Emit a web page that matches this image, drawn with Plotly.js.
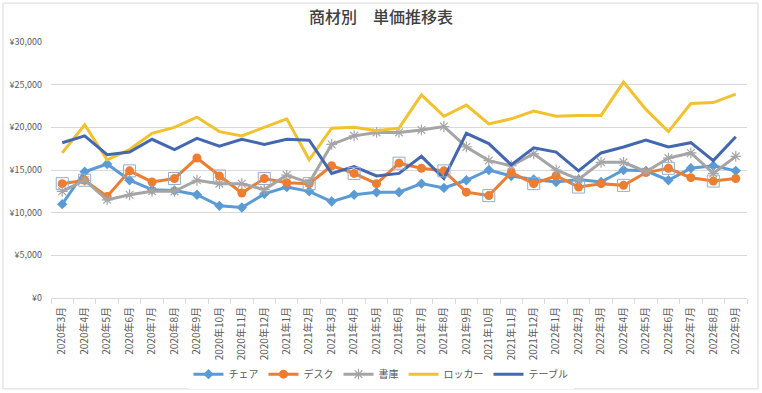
<!DOCTYPE html>
<html>
<head>
<meta charset="utf-8">
<script src="https://cdn.plot.ly/plotly-3.0.1.min.js"></script>
<style>html,body{margin:0;padding:0;background:#fff;}#chart{width:762px;height:393px;}</style>
</head>
<body>
<div id="chart"></div>
<script>
const months = ["2020年3月","2020年4月","2020年5月","2020年6月","2020年7月","2020年8月","2020年9月","2020年10月","2020年11月","2020年12月",
"2021年1月","2021年2月","2021年3月","2021年4月","2021年5月","2021年6月","2021年7月","2021年8月","2021年9月","2021年10月","2021年11月","2021年12月",
"2022年1月","2022年2月","2022年3月","2022年4月","2022年5月","2022年6月","2022年7月","2022年8月","2022年9月"];

const chair  = [11000,14800,15700,13800,12700,12600,12100,10800,10600,12200,13000,12500,11300,12100,12400,12400,13400,12900,13800,15000,14300,13900,13600,13900,13600,15000,14900,13800,15200,15500,14900];
const desk   = [13400,13800,11900,14900,13600,14000,16400,14300,12300,14000,13500,13400,15500,14600,13400,15800,15200,14900,12400,12000,14700,13400,14300,13000,13400,13200,14700,15200,14100,13700,14000];
const shoko  = [12500,13800,11500,12100,12500,12500,13800,13400,13400,12700,14400,13500,18000,19000,19400,19400,19700,20100,17700,16100,15500,16900,15000,13900,15900,15900,14800,16400,17000,14600,16600];
const locker = [17000,20300,16200,17400,19300,20000,21200,19500,19000,20000,21000,16200,19900,20000,19600,19900,23800,21300,22600,20400,21000,21900,21300,21400,21400,25300,22100,19500,22800,22900,23900];
const table  = [18200,19000,16800,17100,18600,17400,18700,17800,18600,18000,18600,18500,14600,15400,14300,14600,16600,14000,19300,18100,15600,17600,17100,14900,17000,17700,18500,17700,18200,16100,18900];

const seriesNames = ["チェア","デスク","書庫","ロッカー","テーブル"];
// indices of デスク points shown with selection handles in the reference
const selectedIdx = [0,1,3,5,7,9,11,13,15,17,19,21,23,25,27,29];

const colors = ["#5B9BD5","#ED7D31","#A5A5A5","#F2C12E","#4468B0"];
const font = "'Noto Sans CJK JP', 'Noto Sans', sans-serif";

const traces = [
  {x: months, y: chair, name: seriesNames[0], type: 'scatter', mode: 'lines+markers',
   line: {color: colors[0], width: 3}, marker: {symbol: 'diamond', size: 8, color: colors[0]}},
  {x: months, y: desk, name: seriesNames[1], type: 'scatter', mode: 'lines+markers',
   line: {color: colors[1], width: 3}, marker: {symbol: 'circle', size: 9, color: colors[1]}},
  {x: months, y: shoko, name: seriesNames[2], type: 'scatter', mode: 'lines+markers',
   line: {color: colors[2], width: 3}, marker: {symbol: 'asterisk-open', size: 9, color: colors[2], line: {color: colors[2], width: 1.2}}},
  {x: months, y: locker, name: seriesNames[3], type: 'scatter', mode: 'lines',
   line: {color: colors[3], width: 3}},
  {x: months, y: table, name: seriesNames[4], type: 'scatter', mode: 'lines',
   line: {color: colors[4], width: 3}},
  {x: selectedIdx.map(i => months[i]), y: selectedIdx.map(i => desk[i]), type: 'scatter', mode: 'markers',
   showlegend: false, hoverinfo: 'skip',
   marker: {symbol: 'square-open', size: 12, color: '#93aecb', line: {color: '#93aecb', width: 1}}}
];

const layout = {
  width: 762, height: 393,
  margin: {l: 51, r: 15, t: 42, b: 95, autoexpand: false},
  paper_bgcolor: '#ffffff', plot_bgcolor: '#ffffff',
  font: {family: font, color: '#595959', size: 9},
  title: {text: '商材別　単価推移表', x: 0.5, xanchor: 'center', xref: 'container',
          y: 0.955, yanchor: 'middle', yref: 'container',
          font: {family: font, size: 16, color: '#404040', weight: 500}},
  xaxis: {type: 'category', range: [-0.5, 30.5], tickangle: -90, showgrid: false, automargin: false,
          showline: true, linecolor: '#d9d9d9', linewidth: 1,
          ticks: 'outside', tickson: 'boundaries', ticklen: 5, tickcolor: '#d9d9d9', ticklabelstandoff: 4,
          tickfont: {family: font, size: 10, color: '#595959'}, fixedrange: true},
  yaxis: {range: [0, 30000], dtick: 5000, tickprefix: '¥', tickformat: ',d', automargin: false,
          showgrid: true, gridcolor: '#d9d9d9', gridwidth: 1, zeroline: false,
          showline: false, ticks: '', ticklabelstandoff: 8,
          tickfont: {family: font, size: 9, color: '#595959'}, fixedrange: true},
  showlegend: true,
  legend: {orientation: 'h', x: 0.5, xanchor: 'center', xref: 'container',
           y: 0.048, yanchor: 'middle', yref: 'container',
           font: {family: font, size: 10, color: '#595959'}, itemwidth: 30, tracegroupgap: 0},
  shapes: [{type: 'rect', xref: 'paper', yref: 'paper', x0: -0.069, x1: 1.0158, y0: -0.355, y1: 1.152,
            line: {color: '#d9d9d9', width: 1}, fillcolor: 'rgba(0,0,0,0)', layer: 'below'}]
};

Plotly.newPlot('chart', traces, layout, {displayModeBar: false, staticPlot: true});
</script>
</body>
</html>
